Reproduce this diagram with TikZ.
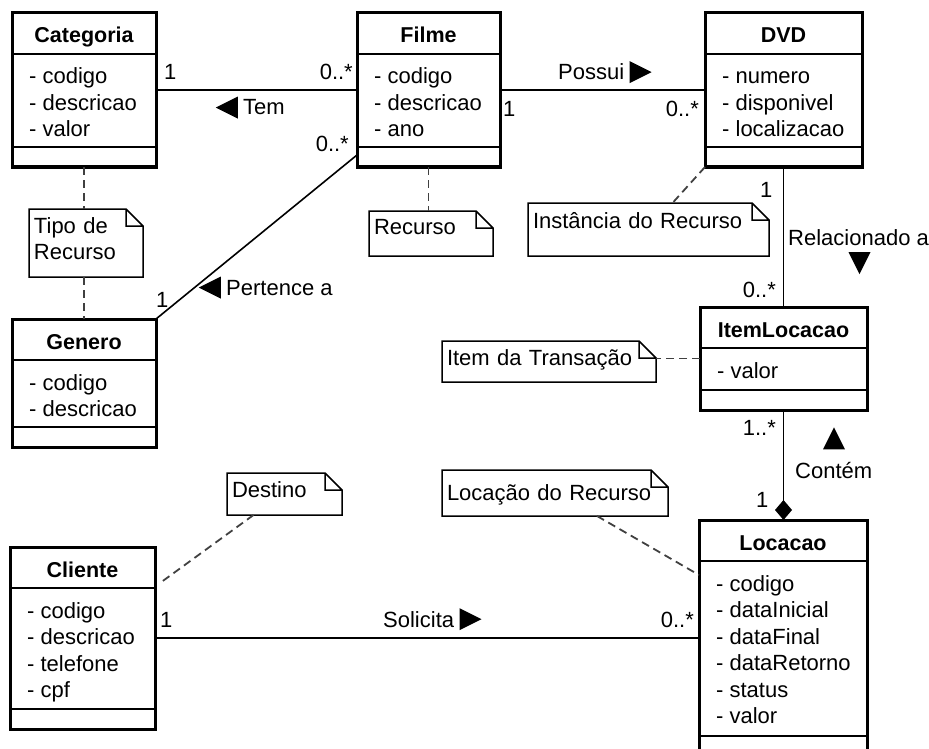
\documentclass[tikz,border=0pt]{standalone}
\usepackage{fontspec}
\setmainfont{Liberation Sans}
\usepackage{tikz}
\usetikzlibrary{arrows.meta,positioning,shapes.geometric}

% class box: id, top left corner, width, height, name, attributes
\newcommand{\umlclass}[6]{%
    \node[classbox, minimum width=#3, minimum height=#4] (#1) at #2 {};
    \node[classname] (#1-name) at ([yshift=-30pt]#1.north) {#5};
    \draw[divider] ([yshift=-41pt]#1.north west) -- ([yshift=-41pt]#1.north east);
    \draw[divider] ([yshift=20pt]#1.south west) -- ([yshift=20pt]#1.south east);
    \foreach \attr [count=\k] in {#6}
        \node[attribute] (#1-attr\k) at ([xshift=17pt, yshift={-71pt-26.5pt*(\k-1)}]#1.north west) {- \attr};
}

\begin{document}
\begin{tikzpicture}[
    x=1pt, y=-1pt,
    font=\fontsize{22}{26}\selectfont,
    classbox/.style={draw, line width=3pt, anchor=north west, outer sep=0pt, inner sep=0pt},
    classname/.style={anchor=base, inner sep=0pt, font=\fontsize{21.5}{26}\selectfont\bfseries},
    divider/.style={line width=1.6pt},
    attribute/.style={anchor=base west, inner sep=0pt},
    assoc/.style={line width=1.6pt},
    notelink/.style={line width=1.8pt, draw=black!75, dash pattern=on 8pt off 5pt},
    note/.style={anchor=north west, inner xsep=5pt, inner ysep=0pt, outer sep=0pt,
        text height=24pt, align=left,
        append after command={\pgfextra{
            \draw[line width=1.5pt] (\tikzlastnode.north west) -- ([xshift=-17pt]\tikzlastnode.north east)
                -- ([yshift=-17pt]\tikzlastnode.north east) -- (\tikzlastnode.south east)
                -- (\tikzlastnode.south west) -- cycle
                ([xshift=-17pt]\tikzlastnode.north east) |- ([yshift=-17pt]\tikzlastnode.north east);}}},
    mult/.style={inner sep=0pt},
    dirmark/.style={isosceles triangle, isosceles triangle stretches, fill=black,
        inner sep=0pt, minimum width=22pt, minimum height=22pt}
]
    \useasboundingbox (0,0) rectangle (929,749);
    \clip (0,0) rectangle (929,749);

    % Classes
    \umlclass{cat}{(12,13)}{144pt}{154pt}{Categoria}{codigo, descricao, valor}
    \umlclass{filme}{(357,13)}{143pt}{154pt}{Filme}{codigo, descricao, ano}
    \umlclass{dvd}{(705,13)}{157pt}{154pt}{DVD}{numero, disponivel, localizacao}
    \umlclass{gen}{(12,319)}{144pt}{128pt}{Genero}{codigo, descricao}
    \umlclass{item}{(700,307)}{167pt}{103pt}{ItemLocacao}{valor}
    \umlclass{loc}{(699,520)}{168pt}{236pt}{Locacao}{codigo, dataInicial, dataFinal, dataRetorno, status, valor}
    \umlclass{cli}{(10,547)}{145pt}{182pt}{Cliente}{codigo, descricao, telefone, cpf}

    % Notes
    \node[note, text width=104pt, text depth=44pt] (tipo) at (29,209) {Tipo de\\Recurso};
    \node[note, text width=114pt, text height=23pt, text depth=22pt] (rec) at (369,211) {Recurso};
    \node[note, text width=231pt, text height=25pt, text depth=28pt] (inst) at (528,203) {Instância do Recurso};
    \node[note, text width=204pt, text depth=17pt] (itemnote) at (442,341) {Item da Transação};
    \node[note, text width=216pt, text height=30pt, text depth=16pt] (locnote) at (442,470) {Locação do Recurso};
    \node[note, text width=105pt, text depth=18pt] (destino) at (227,473) {Destino};

    % Note links
    \draw[notelink] (cat.south) -- (cat.south |- tipo.north);
    \draw[notelink] (tipo.south -| gen.north) -- (gen.north);
    \draw[notelink] (filme.south) -- (filme.south |- rec.north);
    \draw[notelink] (dvd.south west) -- ([xshift=24pt]inst.north);
    \draw[notelink] (item.west) -- (item.west -| itemnote.east);
    \draw[notelink] ([xshift=42pt]locnote.south) -- ([yshift=-55pt]loc.north west);
    \draw[notelink] ([xshift=-31pt]destino.south) -- ([xshift=5pt,yshift=-36pt]cli.north east);

    % Associations
    \draw[assoc] (cat) -- (filme);
    \draw[assoc] (filme) -- (dvd);
    \draw[assoc] ([yshift=12pt]filme.south west) -- (gen.north east);
    \draw[assoc] (dvd) -- (item);
    \draw[assoc, -{Diamond[length=20pt, width=17pt]}] (item) -- (item |- loc.north);
    \draw[assoc] (cli) -- (loc);

    % Multiplicities and names
    \node[mult, anchor=base west] (m-cat) at (164,80) {1};
    \node[mult, anchor=base east] (m-filme-cat) at (353,80) {0..*};
    \node[mult, anchor=base west] (tem) at (243,115) {Tem};
    \node[dirmark, shape border rotate=180, left=5pt of tem] (tem-dir) {};

    \node[mult, anchor=base east] (m-filme-gen) at (349,152) {0..*};
    \node[mult, anchor=base west] (m-gen) at (156,307) {1};
    \node[mult, anchor=base west] (pertence) at (226,295) {Pertence a};
    \node[dirmark, shape border rotate=180, left=5pt of pertence] (pertence-dir) {};

    \node[mult, anchor=base west] (possui) at (558,80) {Possui};
    \node[dirmark, right=5pt of possui] (possui-dir) {};
    \node[mult, anchor=base west] (m-filme-dvd) at (503,117) {1};
    \node[mult, anchor=base east] (m-dvd) at (699,117) {0..*};

    \node[mult, anchor=base west] (m-dvd-item) at (760,197) {1};
    \node[mult, anchor=base west] (relacionado) at (788,245) {Relacionado a};
    \node[dirmark, shape border rotate=-90] (relacionado-dir) at (859.5,259) {};
    \node[mult, anchor=base east] (m-item) at (776,297) {0..*};

    \node[mult, anchor=base east] (m-item-loc) at (776,435) {1..*};
    \node[dirmark, shape border rotate=90] (contem-dir) at (834,442.5) {};
    \node[mult, anchor=base west] (contem) at (795,478) {Contém};
    \node[mult, anchor=base west] (m-loc-item) at (756,507) {1};

    \node[mult, anchor=base west] (m-cli) at (160,627) {1};
    \node[mult, anchor=base west] (solicita) at (383,627) {Solicita};
    \node[dirmark, right=5pt of solicita] (solicita-dir) {};
    \node[mult, anchor=base east] (m-loc) at (694,627) {0..*};
\end{tikzpicture}
\end{document}
